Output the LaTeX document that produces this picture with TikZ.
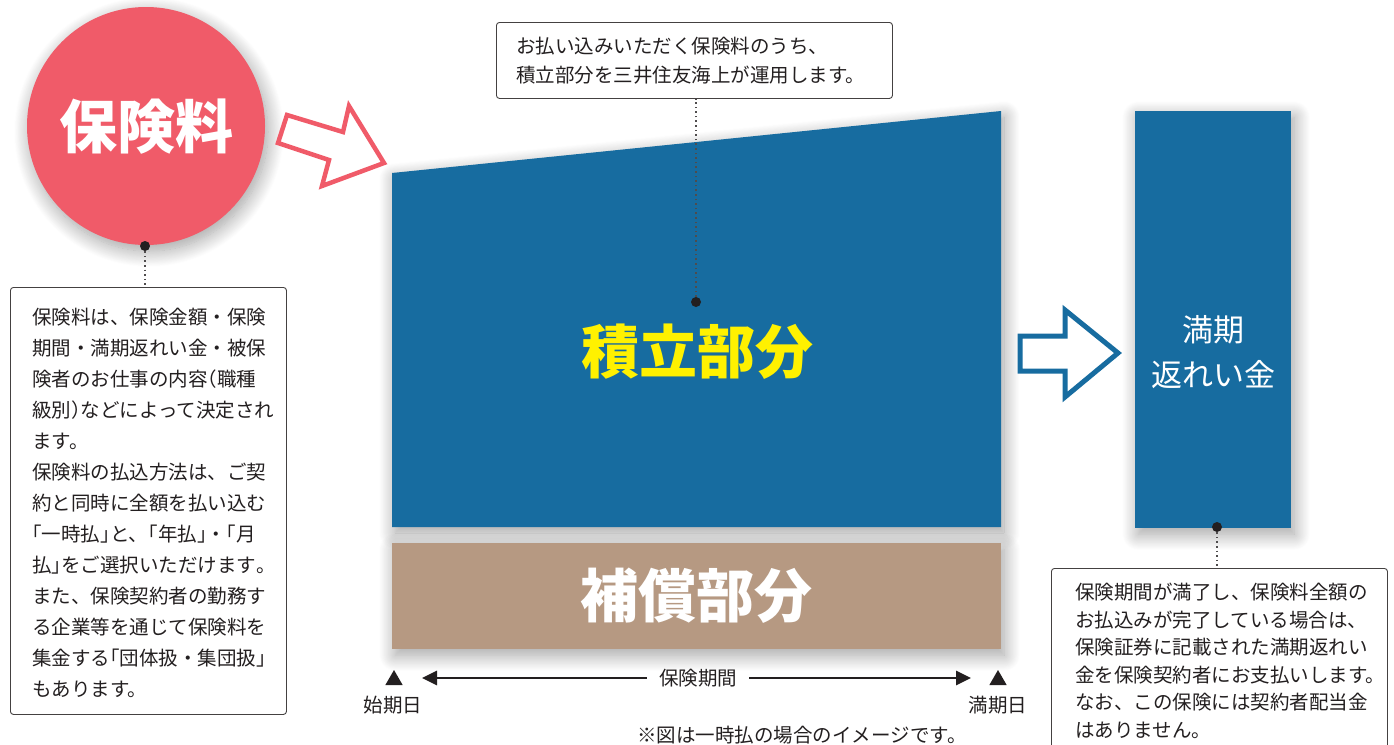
\documentclass[tikz,border=0pt]{standalone}
\usepackage{fontspec}
\setmainfont{Noto Sans CJK JP}
\newfontfamily\halffont{Noto Sans CJK JP}[RawFeature=+halt]
\newcommand\hw[1]{{\halffont #1}}
\usetikzlibrary{arrows.meta,shapes.geometric,shadows.blur}
\definecolor{pinkc}{HTML}{F05B69}
\definecolor{bluec}{HTML}{176CA0}
\definecolor{brownc}{HTML}{B69982}
\definecolor{yellowc}{HTML}{FFF100}
\definecolor{inkc}{HTML}{231F20}
\begin{document}
\begin{tikzpicture}[x=1pt,y=-1pt,
  callout/.style={draw=inkc!85, line width=0.9pt, rounded corners=3pt, fill=white, inner sep=0pt},
  txt/.style={align=left, inner sep=0pt, text=inkc},
  pin/.style={circle, fill=inkc, inner sep=0pt, minimum size=10pt},
  leader/.style={draw=inkc!80, line width=1.5pt, dash pattern=on 1.6pt off 3pt},
  softshadow/.style={blur shadow={shadow xshift=3pt, shadow yshift=-6pt, shadow blur radius=16pt, shadow blur steps=20, shadow opacity=38}},
  bigtitle/.style={font=\fontsize{58}{58}\selectfont\bfseries, inner sep=0pt},
  lab/.style={font=\fontsize{19.5}{24}\selectfont, text=inkc, inner sep=0pt},
  tri/.style={regular polygon, regular polygon sides=3, fill=inkc, inner sep=0pt, minimum size=20pt},
  axisline/.style={draw=inkc, line width=2.8pt, -{Triangle[length=15pt,width=14pt]}},
  hollowarrow/.style={fill=white, line join=miter}
]
\useasboundingbox (0,0) rectangle (1394,744);
\clip (0,0) rectangle (1394,744);

% premium circle
\node[circle, fill=pinkc, minimum size=238pt, inner sep=0pt, softshadow] (prem) at (146,126) {};
\node[bigtitle, text=white] (premt) at (146,127) {保険料};

% pink hollow arrow
\draw[hollowarrow, draw=pinkc, line width=4.5pt]
  (287,115) -- (343,132) -- (349,106) -- (384,163) -- (322,186) -- (329,160) -- (278,143) -- cycle;

% accumulation part (trapezoid)
\path[fill=bluec, softshadow] (392,173) -- (1001,111) -- (1001,527) -- (392,527) -- cycle;
\node[bigtitle, text=yellowc] (acc) at (697,352) {積立部分};

% compensation part
\node[fill=brownc, minimum width=609pt, minimum height=106pt, inner sep=0pt, softshadow, anchor=north west] (comp) at (392,543) {};
\node[bigtitle, text=white] (compt) at (comp.center) {補償部分};

% blue hollow arrow
\draw[hollowarrow, draw=bluec, line width=5pt]
  (1020,336) -- (1065,336) -- (1065,310) -- (1118,353) -- (1065,397) -- (1065,371) -- (1020,371) -- cycle;

% maturity refund box
\node[fill=bluec, minimum width=156pt, minimum height=417pt, inner sep=0pt, softshadow, anchor=north west] (mat) at (1135,111) {};
\node[font=\fontsize{31}{45}\selectfont, text=white, align=center, inner sep=0pt] (matt) at (1213,352) {満期\\返れい金};

% top callout
\node[callout, minimum width=396pt, minimum height=76pt, anchor=north west] (topbox) at (496,22) {};
\node[txt, font=\fontsize{19.5}{29}\selectfont, anchor=west] (toptext) at (516,61) {お払い込みいただく保険料のうち、\\積立部分を三井住友海上が運用します。};

% left callout
\node[callout, minimum width=276pt, minimum height=427pt, anchor=north west] (lbox) at (10,287) {};
\node[txt, font=\fontsize{19.5}{31}\selectfont, anchor=west] (ltext) at (32,503) {保険料は、保険金額・保険\\期間・満期返れい金・被保\\険者のお仕事の内容\hw{（}職種\\級別\hw{）}などによって決定され\\ます。\\保険料の払込方法は、ご契\\約と同時に全額を払い込む\\\hw{「}一時払\hw{」}と、\hw{「}年払\hw{」}・\hw{「}月\\払\hw{」}をご選択いただけます\hw{。}\\また、保険契約者の勤務す\\る企業等を通じて保険料を\\集金する\hw{「}団体扱・集団扱\hw{」}\\もあります。};

% right callout
\node[callout, minimum width=336pt, minimum height=220pt, anchor=north west] (rbox) at (1051,568) {};
\node[txt, font=\fontsize{19.5}{27.5}\selectfont, anchor=west] (rtext) at (1075,661) {保険期間が満了し、保険料全額の\\お払込みが完了している場合は、\\保険証券に記載された満期返れい\\金を保険契約者にお支払いします。\\なお、この保険には契約者配当金\\はありません。};

% pins and leaders
\node[pin] (pin1) at (145,246) {};
\node[pin] (pin2) at (696,302) {};
\node[pin] (pin3) at (1217,527) {};
\draw[leader] (pin1) -- (pin1 |- lbox.north);
\draw[leader] (pin2) -- (pin2 |- topbox.south);
\draw[leader] (pin3) -- (pin3 |- rbox.north);

% time axis
\node[tri] (t1) at (394,680) {};
\node[tri] (t2) at (998,680) {};
\node[lab] (start) at (393,705) {始期日};
\node[lab] (end) at (998,705) {満期日};
\node[lab, inner xsep=12pt, inner ysep=2pt] (per) at (698,678) {保険期間};
\coordinate (aL) at (422,678);
\coordinate (aR) at (971,678);
\draw[axisline] (per.west) -- (aL);
\draw[axisline] (per.east) -- (aR);

\node[lab] (note) at (802,735) {※図は一時払の場合のイメージです。};
\end{tikzpicture}
\end{document}
